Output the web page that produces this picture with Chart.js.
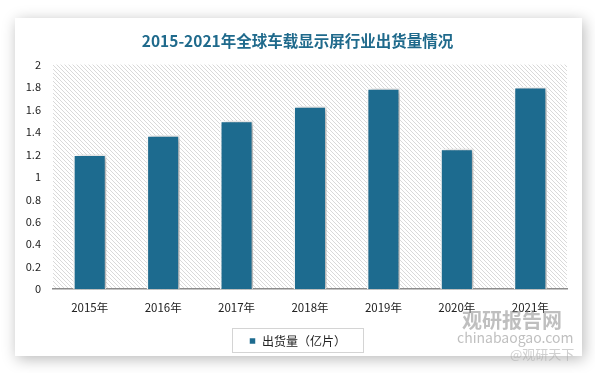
<!DOCTYPE html>
<html><head><meta charset="utf-8">
<script src="https://cdn.jsdelivr.net/npm/chart.js@4/dist/chart.umd.min.js"></script>
<style>html,body{margin:0;padding:0;background:#fff}#wrap{width:595px;height:373px}</style>
</head><body><div id="wrap"><canvas id="c" width="595" height="373"></canvas></div>
<script>
const categories = ['2015年','2016年','2017年','2018年','2019年','2020年','2021年'];
const shipments = [1.2, 1.37, 1.5, 1.63, 1.79, 1.25, 1.8];
const seriesName = '出货量（亿片）';
const titleText = '2015-2021年全球车载显示屏行业出货量情况';

const FONT = '"Noto Sans CJK SC", "Noto Sans", sans-serif';
const BAR = '#1d6b8f';

function hatch(){
  const p = document.createElement('canvas'); p.width = 4; p.height = 4;
  const g = p.getContext('2d');
  g.fillStyle = '#ffffff'; g.fillRect(0,0,4,4);
  g.fillStyle = '#d9d9d9';
  for (let i=0;i<4;i++) g.fillRect(i,i,1,1);
  return g.createPattern(p,'repeat');
}

const cardPlugin = {
  id:'card',
  beforeDraw(chart){
    const ctx = chart.ctx;
    ctx.save();
    ctx.fillStyle = '#ffffff'; ctx.fillRect(0,0,chart.width,chart.height);
    ctx.shadowColor = 'rgba(0,0,0,0.28)'; ctx.shadowBlur = 14; ctx.shadowOffsetX = 2; ctx.shadowOffsetY = 3;
    ctx.fillStyle = '#ffffff'; ctx.fillRect(15,18,567,338);
    ctx.restore();
    const a = chart.chartArea;
    ctx.save();
    ctx.fillStyle = hatch();
    ctx.fillRect(a.left, a.top, a.right-a.left, a.bottom-a.top);
    ctx.restore();
  },
  beforeDatasetsDraw(chart){
    const ctx = chart.ctx; ctx.save();
    ctx.shadowColor = 'rgba(0,0,0,0.35)'; ctx.shadowBlur = 6; ctx.shadowOffsetX = 3; ctx.shadowOffsetY = 1;
  },
  afterDatasetsDraw(chart){ chart.ctx.restore(); },
  afterDraw(chart){
    const ctx = chart.ctx, L = chart.legend;
    ctx.save();
    ctx.strokeStyle = '#d4d4d4'; ctx.lineWidth = 1;
    const it = L.legendHitBoxes[0];
    if (it){ ctx.strokeRect(Math.round(it.left-17)+0.5, Math.round(it.top-7)+0.5, Math.round(it.width+34), 24); }
    ctx.globalAlpha = 0.55;
    ctx.fillStyle = '#8a8a8a';
    ctx.font = 'bold 20px ' + FONT; ctx.textBaseline = 'middle'; ctx.textAlign = 'left';
    ctx.fillText('观研报告网', 462, 320);
    ctx.font = '14px ' + FONT;
    ctx.fillText('chinabaogao.com', 457, 338);
    ctx.fillStyle = '#aaaaaa';
    ctx.font = '13px ' + FONT;
    ctx.fillText('@观研天下', 510, 354);
    ctx.restore();
  }
};

new Chart(document.getElementById('c'), {
  type:'bar',
  data:{ labels: categories, datasets:[{ label: seriesName, data: shipments, backgroundColor: BAR, borderColor:'#ffffff', borderWidth:1.5, borderSkipped:'bottom', barPercentage:0.45, categoryPercentage:1.0 }]},
  options:{
    responsive:false, animation:false, devicePixelRatio:1,
    layout:{ padding:{ left:15, right:15, top:0, bottom:16 } },
    plugins:{
      title:{ display:true, text:titleText, color:'#1f6a8c', font:{ family:FONT, size:15.5, weight:'bold' }, padding:{ top:32, bottom:14 } },
      legend:{ position:'bottom', labels:{ boxWidth:7, boxHeight:7, color:'#222', font:{ family:FONT, size:12 }, padding:8 } },
      tooltip:{ enabled:false }
    },
    scales:{
      x:{ grid:{ display:false, drawTicks:false }, border:{ display:true, color:'#8c8c8c', width:1.5 }, ticks:{ color:'#222', font:{ family:FONT, size:11.5 }, padding:12 } },
      y:{ min:0, max:2, grid:{ display:false, drawTicks:false }, border:{ display:false }, ticks:{ stepSize:0.2, color:'#222', font:{ family:FONT, size:11 }, padding:12, callback:(v)=>String(+Number(v).toFixed(1)) }, afterFit(s){ s.width = 38; } },
      y2:{ position:'right', display:true, grid:{ display:false, drawTicks:false }, border:{ display:false }, ticks:{ display:false }, afterFit(s){ s.width = 13; } }
    }
  },
  plugins:[cardPlugin]
});
</script></body></html>
